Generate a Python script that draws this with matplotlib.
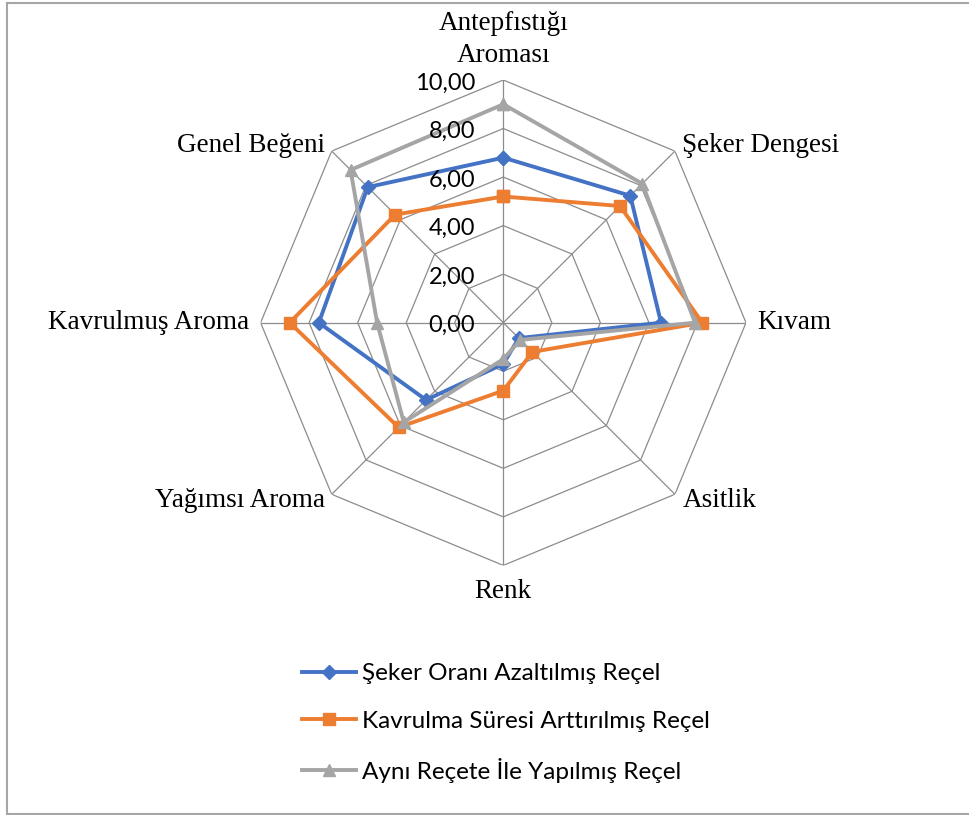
import numpy as np
import matplotlib

matplotlib.use("Agg")
import matplotlib.pyplot as plt
from matplotlib.lines import Line2D

# Duyusal analiz puanları (0-10), saat yönünde tepeden başlayarak
categories = [
    "Antepfıstığı\nAroması",
    "Şeker Dengesi",
    "Kıvam",
    "Asitlik",
    "Renk",
    "Yağımsı Aroma",
    "Kavrulmuş Aroma",
    "Genel Beğeni",
]
seker_azaltilmis = [6.8, 7.4, 6.5, 0.9, 1.7, 4.5, 7.6, 7.9]
kavrulma_artirilmis = [5.2, 6.8, 8.2, 1.7, 2.8, 6.1, 8.8, 6.3]
ayni_recete = [9.0, 8.1, 7.9, 1.0, 1.5, 5.8, 5.2, 8.9]
series_names = [
    "Şeker Oranı Azaltılmış Reçel",
    "Kavrulma Süresi Arttırılmış Reçel",
    "Aynı Reçete İle Yapılmış Reçel",
]
ring_values = [0, 2, 4, 6, 8, 10]
ring_labels = ["0,00", "2,00", "4,00", "6,00", "8,00", "10,00"]

COLORS = ["#4472C4", "#ED7D31", "#A5A5A5"]
MARKERS = ["D", "s", "^"]
MSIZES = [7.5, 8.5, 9]
GRID = "#8C8C8C"

W, H = 969, 815
fig = plt.figure(figsize=(W / 100, H / 100), dpi=100)

cx, cy, rad = 503.3, 322.7, 242.7
ax = fig.add_axes([(cx - rad) / W, 1 - (cy + rad) / H, 2 * rad / W, 2 * rad / H],
                  projection="polar")
ax.set_theta_offset(np.pi / 2)
ax.set_theta_direction(-1)
ax.set_ylim(0, 10)
ax.grid(False)
ax.spines["polar"].set_visible(False)
ax.set_xticks([])
ax.set_yticks([])
ax.patch.set_alpha(0)

n = len(categories)
angles = np.arange(n) * 2 * np.pi / n
closed = np.append(angles, angles[0])

# sekizgen ızgara ve eksen çizgileri
for r in ring_values[1:]:
    ax.plot(closed, [r] * (n + 1), color=GRID, lw=0.9, zorder=1)
for a in angles:
    ax.plot([a, a], [0, 10], color=GRID, lw=0.9, zorder=1)

# seriler
handles = []
for vals, name, c, m, ms in zip([seker_azaltilmis, kavrulma_artirilmis, ayni_recete],
                                series_names, COLORS, MARKERS, MSIZES):
    ax.plot(closed, vals + vals[:1], color=c, lw=2.8, marker=m, markersize=ms,
            markeredgecolor=c, markerfacecolor=c, zorder=3, clip_on=False)
    handles.append(Line2D([0], [0], color=c, lw=2.8, marker=m, markersize=ms,
                          markeredgecolor=c, markerfacecolor=c))

# ölçek etiketleri
for r, lab in zip(ring_values, ring_labels):
    ax.annotate(lab, xy=(0, r), xytext=(-28, -3), textcoords="offset pixels",
                ha="right", va="center", fontsize=17, family="Lato", zorder=4)

# kategori etiketleri
label_pos = [
    ((0, 12), "center", "bottom"),
    ((7, 6), "left", "center"),
    ((11, 0), "left", "center"),
    ((8, -6), "left", "center"),
    ((0, -26), "center", "center"),
    ((-7, -6), "right", "center"),
    ((-11, 0), "right", "center"),
    ((-7, 6), "right", "center"),
]
for a, lab, (off, ha, va) in zip(angles, categories, label_pos):
    ax.annotate(lab, xy=(a, 10), xytext=off, textcoords="offset pixels",
                ha=ha, va=va, fontsize=19.5, family="Liberation Serif",
                linespacing=1.35, annotation_clip=False)

leg = fig.legend(handles, series_names, loc="center left",
                 bbox_to_anchor=(290 / W, 1 - 723 / H), frameon=False,
                 prop={"family": "Lato", "size": 17.5}, handlelength=2.2,
                 handletextpad=0.25, labelspacing=1.08, borderpad=0)

# çerçeve
fig.add_artist(Line2D([7 / W, 7 / W], [1 - 3 / H, 1 - 814 / H], transform=fig.transFigure,
                      color="#A6A6A6", lw=1.5))
fig.add_artist(Line2D([7 / W, 1], [1 - 3 / H, 1 - 3 / H], transform=fig.transFigure,
                      color="#A6A6A6", lw=1.5))
fig.add_artist(Line2D([7 / W, 1], [1 - 814 / H, 1 - 814 / H], transform=fig.transFigure,
                      color="#A6A6A6", lw=1.5))

fig.savefig("out.png", dpi=100)
